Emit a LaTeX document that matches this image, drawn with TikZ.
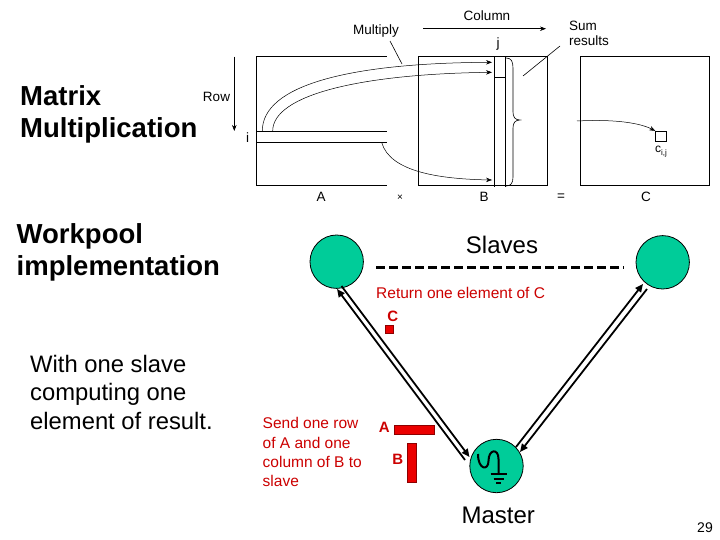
\documentclass[tikz,border=0pt]{standalone}
\usepackage{fontspec}
\setmainfont{Liberation Sans}
\usetikzlibrary{arrows.meta,calc}
\definecolor{slgreen}{RGB}{0,204,153}
\definecolor{txtred}{RGB}{204,0,0}
\definecolor{barred}{RGB}{235,0,0}
\begin{document}
\begin{tikzpicture}[x=1pt,y=-1pt,
  lbl/.style={font=\fontsize{13.5}{15}\selectfont, inner sep=0pt},
  mat/.style={line width=0.8pt},
  lead/.style={line width=0.6pt},
  marr/.style={line width=0.5pt,-{Stealth[length=6pt,width=4.5pt]}},
  proc/.style={circle, draw=black, line width=0.8pt, fill=slgreen, minimum size=53.4pt, inner sep=0pt},
  dbl/.style={line width=1.8pt,-{Triangle[length=8pt,width=7pt]}},
  redtxt/.style={text=txtred, font=\fontsize{15.5}{19.2}\selectfont, inner sep=0pt, align=left},
  redbold/.style={text=txtred, font=\fontsize{15}{18}\bfseries\selectfont, inner sep=0pt},
  redbar/.style={fill=barred, draw=barred!60!black, line width=0.5pt},
  bigtitle/.style={anchor=north west, inner sep=0pt, align=left, font=\fontsize{27.5}{32}\bfseries\selectfont},
  bigtext/.style={inner sep=0pt, font=\fontsize{24}{28}\selectfont},
  ]
\useasboundingbox (0,0) rectangle (720,540);
\fill[white] (0,0) rectangle (720,540);

% left texts
\node[bigtitle] (t1) at (20,85) {Matrix\\Multiplication};
\node[bigtitle] (t2) at (16.5,223) {Workpool\\implementation};
\node[anchor=north west, inner sep=0pt, align=left, font=\fontsize{23.8}{28.3}\selectfont] (t3) at (30,355) {With one slave\\computing one\\element of result.};

% matrix A
\draw[mat] (386.7,56.5) -- (256.7,56.5) -- (256.7,185.5) -- (386.7,185.5);
\draw[mat] (256.7,131) -- (386.7,131) (256.7,142) -- (386.7,142);
% matrix B
\draw[mat] (418.3,56.5) rectangle (547.7,185.5);
\draw[mat] (494.3,56.5) -- (494.3,187) (505,56.5) -- (505,187);
\draw[mat] (494.3,77.5) -- (505,77.5);
% matrix C
\draw[mat] (580.7,56.5) rectangle (709.3,185.5);
\node[draw, mat, minimum size=10.6pt, inner sep=0pt] (cij) at (661,136.6) {};

% labels
\node[lbl] (row) at (216.5,96.7) {Row};
\node[lbl] (ii) at (247.7,137.7) {i};
\node[lbl] (col) at (487,16) {Column};
\node[lbl] (mul) at (376,31) {Multiply};
\node[lbl] (jj) at (498,44) {j};
\node[lbl, anchor=north west, align=left] (sum) at (569,20.5) {Sum\\results};
\node[lbl] (la) at (321,197) {A};
\node[inner sep=0pt, font=\fontsize{10}{12}\selectfont] (lx) at (400,197.5) {×};
\node[lbl] (lb) at (484,197) {B};
\node[lbl] (leq) at (561,197) {=};
\node[lbl] (lc) at (646,197) {C};
\node[inner sep=0pt, font=\fontsize{12}{14}\selectfont, anchor=west] (cl) at (655,152) {c\raisebox{-3pt}{\fontsize{8}{9}\selectfont i,j}};

% row / column arrows
\coordinate (rowa) at (234.3,56.7); \coordinate (rowb) at (234.3,131);
\draw[marr] (rowa) -- (rowb);
\coordinate (cola) at (423,28.7); \coordinate (colb) at (546,28.7);
\draw[marr] (cola) -- (colb);

% multiply curves
\draw[marr] (262.3,131) .. controls (262.3,85) and (350,63) .. (492,62.3);
\draw[marr] (272.7,131) .. controls (272.7,95) and (360,74) .. (492,72.3);
\draw[marr] (381.7,142.5) .. controls (390,172) and (440,179) .. (492,180);
\draw[marr] (577,121) .. controls (615,119) and (640,123) .. (cij.north west);

% leader lines
\draw[lead] (390,41) -- (402,64);
\draw[lead] (560,46) -- (523,76);

% brace
\draw[line width=0.6pt] (506,58) .. controls (511,58) and (513,61) .. (513,68) -- (513,112)
  .. controls (513,117) and (515,120) .. (520,120) .. controls (515,120) and (513,123) .. (513,128)
  -- (513,177) .. controls (513,183) and (511,186) .. (506,186);

% workpool
\node[proc] (ls) at (336.7,261.7) {};
\node[proc] (rs) at (662.7,262.3) {};
\node[proc] (m) at (496.5,466) {};
\node[bigtext] (slaves) at (502,245) {Slaves};
\node[bigtext] (master) at (498.3,515) {Master};
\coordinate (da) at (376,267.3); \coordinate (db) at (623.3,267.3);
\draw[line width=2.4pt, dash pattern=on 8.5pt off 4.5pt] (da) -- (db);

\coordinate (l1a) at (337,289); \coordinate (l1b) at (465,460);
\coordinate (l2a) at (341.5,286); \coordinate (l2b) at (469.5,457);
\draw[dbl] (l1b) -- (l1a);
\draw[dbl] (l2a) -- (l2b);
\coordinate (r1a) at (516,447); \coordinate (r1b) at (643,284);
\coordinate (r2a) at (647,289); \coordinate (r2b) at (520,452);
\draw[dbl] (r1a) -- (r1b);
\draw[dbl] (r2a) -- (r2b);

% master symbol
\draw[line width=2pt] (478,454) .. controls (478,470) and (488.5,471) .. (488.5,461)
  .. controls (488.5,449) and (498.5,448) .. (498.5,459) -- (498.5,474);
\draw[line width=2pt] (490.5,474) -- (506.5,474) (493.5,478.5) -- (503.5,478.5) (496,483) -- (501,483);

% red annotations
\node[redtxt, anchor=west] (ret) at (376,292.7) {Return one element of C};
\node[redbold] (rc) at (392.7,316.7) {C};
\draw[redbar] (385,325) rectangle (393.3,333.3);
\node[redtxt, anchor=north west] (send) at (262.5,417.5) {Send one row\\of A and one\\column of B to\\slave};
\node[redbold] (ra) at (384.3,427.3) {A};
\draw[redbar] (394.3,425.7) rectangle (434.3,434.3);
\node[redbold] (rb) at (397.7,459) {B};
\draw[redbar] (407.3,443.3) rectangle (416.7,482.3);

\node[inner sep=0pt, font=\fontsize{14}{16}\selectfont] (pg) at (705,528) {29};
\end{tikzpicture}
\end{document}
